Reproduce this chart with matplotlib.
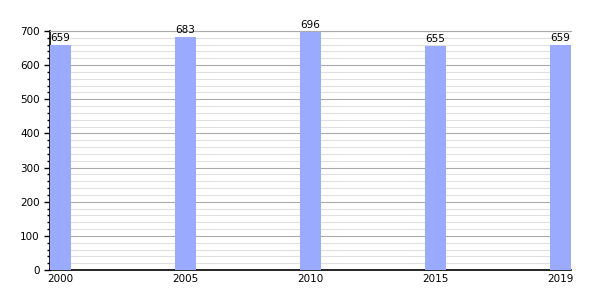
import numpy as np
import matplotlib
matplotlib.use("Agg")
import matplotlib.pyplot as plt
from matplotlib.ticker import MultipleLocator

years = ["2000", "2005", "2010", "2015", "2019"]
population = [659, 683, 696, 655, 659]

fig = plt.figure(figsize=(6, 3), dpi=100)
ax = fig.add_axes([50 / 600, 30 / 300, 521 / 600, 239 / 300])

x = np.arange(len(years))
width = 0.168
ax.bar(x, population, width=width, color="#99aaff", zorder=3)

for xi, v in zip(x, population):
    ax.text(xi, v + 6, str(v), ha="center", va="bottom", fontsize=7.5, zorder=4)

ax.set_xlim(-width / 2, len(years) - 1 + width / 2)
ax.set_ylim(0, 700)
ax.set_xticks(x)
ax.set_xticklabels(years, fontsize=7.5)
ax.yaxis.set_major_locator(MultipleLocator(100))
ax.yaxis.set_minor_locator(MultipleLocator(20))
ax.tick_params(axis="y", labelsize=7.5, length=4, width=1)
ax.tick_params(axis="y", which="minor", length=2.5, width=1)
ax.tick_params(axis="x", length=0, pad=3)

ax.grid(axis="y", which="major", color="#aaaaaa", linewidth=0.8, zorder=1)
ax.grid(axis="y", which="minor", color="#e0e0e0", linewidth=0.8, zorder=0)

ax.spines["right"].set_visible(False)
ax.spines["top"].set_color("#aaaaaa")
ax.spines["top"].set_linewidth(0.8)
ax.spines["left"].set_linewidth(1.2)
ax.spines["bottom"].set_linewidth(1.2)

fig.savefig("out.png", dpi=100)
